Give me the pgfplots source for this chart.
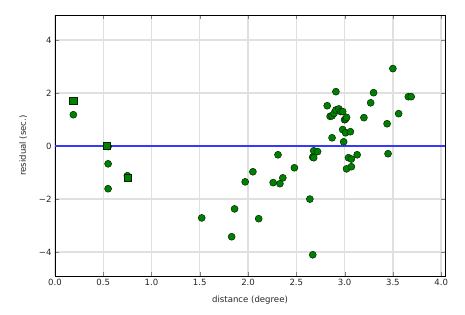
\documentclass[border=0pt]{standalone}
\usepackage{pgfplots}
\pgfplotsset{compat=1.18}
\usepackage{fontspec}
\setmainfont{DejaVu Sans}
\definecolor{mpgreen}{rgb}{0,0.5,0}
\definecolor{gridgray}{rgb}{0.88,0.88,0.88}
\definecolor{zeroblue}{rgb}{0.22,0.22,0.98}
\begin{document}
\begin{tikzpicture}
\path[use as bounding box] (-55bp,-39bp) rectangle (410bp,276bp);
\begin{axis}[
  at={(0,0)}, anchor=south west,
  scale only axis, width=390bp, height=261bp,
  xmin=0, xmax=4.04, ymin=-4.9, ymax=4.94,
  xtick={0,0.5,...,4.0}, ytick={-4,-2,0,2,4},
  xticklabels={0.0,0.5,1.0,1.5,2.0,2.5,3.0,3.5,4.0},
  yticklabels={−4,−2,0,2,4},
  ticklabel style={font=\fontsize{8.6}{10}\selectfont, text=black!85},
  tick align=inside, tick pos=both,
  major tick length=4bp,
  grid=major, grid style={gridgray, line width=1.3bp},
  axis line style={black, line width=0.9bp},
  xlabel={distance (degree)}, ylabel={residual (sec.)},
  label style={font=\fontsize{8.6}{10}\selectfont, text=black!85},
  xlabel style={yshift=-3bp}, ylabel style={yshift=5bp},
]
\addplot[zeroblue, line width=1.2bp, forget plot] coordinates {(0,0) (4.04,0)};
\addplot[only marks, mark=*, mark size=3.5bp, mark options={fill=mpgreen, draw=black!70!mpgreen, line width=0.5bp}] coordinates {
(0.19,1.18) (0.55,-0.67) (0.55,-1.61) (0.75,-1.12) (0.55,-0.02) (0.19,1.70)
(1.52,-2.71) (1.83,-3.42) (1.86,-2.37) (1.97,-1.35) (2.05,-0.97) (2.11,-2.74)
(2.26,-1.38) (2.31,-0.33) (2.33,-1.42) (2.36,-1.20) (2.48,-0.82) (2.64,-2.00)
(2.67,-4.10) (2.67,-0.42) (2.68,-0.44) (2.68,-0.18) (2.72,-0.21)
(2.82,1.52) (2.85,1.12) (2.87,1.14) (2.87,0.31) (2.89,1.23) (2.91,1.36) (2.91,2.05)
(2.94,1.40) (2.96,1.30) (2.98,1.30) (2.98,0.62) (2.99,0.16) (3.00,0.99) (3.01,1.02)
(3.02,1.08) (3.01,0.50) (3.06,0.54) (3.02,-0.86) (3.04,-0.44) (3.07,-0.49) (3.07,-0.78)
(3.13,-0.33) (3.20,1.07) (3.27,1.63) (3.30,2.01) (3.44,0.84) (3.45,-0.29) (3.50,2.92)
(3.56,1.22) (3.66,1.86) (3.69,1.86)
};
\addplot[only marks, mark=square*, mark size=3.6bp, mark options={fill=mpgreen, draw=black!70!mpgreen, line width=0.5bp}] coordinates {
(0.19,1.71) (0.54,0.0) (0.75,-1.21)
};
\end{axis}
\end{tikzpicture}
\end{document}
